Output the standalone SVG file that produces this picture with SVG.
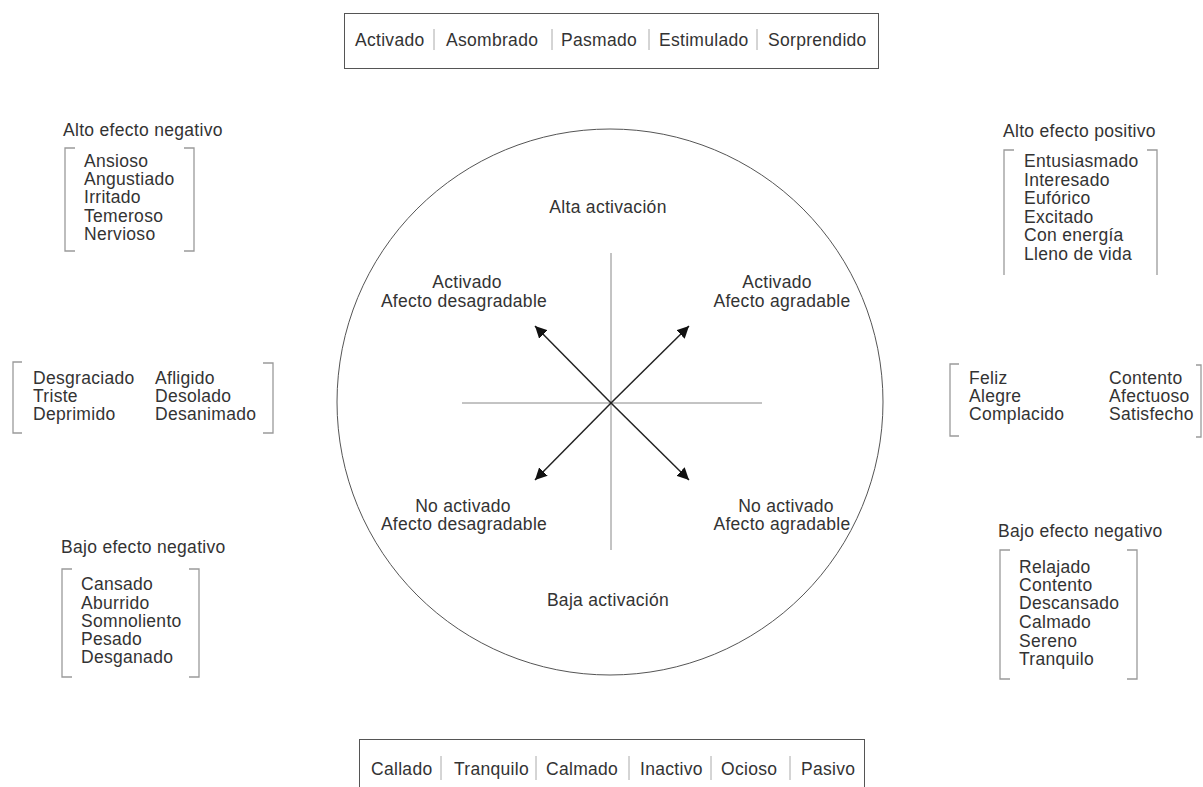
<svg xmlns="http://www.w3.org/2000/svg" width="1203" height="787" viewBox="0 0 1203 787">
<style>
text{font-family:"Liberation Sans",Arial,sans-serif;font-size:17.5px;letter-spacing:0.3px;fill:#333}
.c{text-anchor:middle}
.br{fill:none;stroke:#9a9a9a;stroke-width:1.3}
.sep{stroke:#aaa;stroke-width:1}
.box{fill:none;stroke:#555;stroke-width:1}
.axis{stroke:#888;stroke-width:1}
.arr{stroke:#222;stroke-width:1.5;marker-end:url(#ah)}
</style>
<defs>
<marker id="ah" viewBox="0 0 10 10" refX="10" refY="5" markerWidth="12" markerHeight="12" markerUnits="userSpaceOnUse" orient="auto">
<path d="M0,0 L10,5 L0,10 z" fill="#111"/>
</marker>
</defs>
<g id="circle">
<circle cx="610" cy="402" r="273" fill="none" stroke="#555" stroke-width="1"/>
<text class="c" x="608" y="213">Alta activación</text>
<text class="c" x="608" y="606">Baja activación</text>
</g>
<g id="axes">
<line class="axis" x1="462" y1="403" x2="762" y2="403"/>
<line class="axis" x1="611" y1="253" x2="611" y2="550"/>
</g>
<g id="connectors">
<line class="arr" x1="611" y1="403" x2="535" y2="326"/>
<line class="arr" x1="611" y1="403" x2="689" y2="326"/>
<line class="arr" x1="611" y1="403" x2="535" y2="480"/>
<line class="arr" x1="611" y1="403" x2="689" y2="480"/>
</g>
<g id="q-tl">
<text class="c" x="467" y="288">Activado</text>
<text class="c" x="464" y="307">Afecto desagradable</text>
</g>
<g id="q-tr">
<text class="c" x="777" y="288">Activado</text>
<text class="c" x="782" y="307">Afecto agradable</text>
</g>
<g id="q-bl">
<text class="c" x="463" y="512">No activado</text>
<text class="c" x="464" y="530">Afecto desagradable</text>
</g>
<g id="q-br">
<text class="c" x="786" y="512">No activado</text>
<text class="c" x="782" y="530">Afecto agradable</text>
</g>
<g id="top-box">
<rect class="box" x="344.5" y="13.5" width="534" height="55"/>
<text x="355" y="46">Activado</text>
<line class="sep" x1="434" y1="29" x2="434" y2="50"/>
<text x="446" y="46">Asombrado</text>
<line class="sep" x1="552" y1="29" x2="552" y2="50"/>
<text x="561" y="46">Pasmado</text>
<line class="sep" x1="649" y1="29" x2="649" y2="50"/>
<text x="659" y="46">Estimulado</text>
<line class="sep" x1="757" y1="29" x2="757" y2="50"/>
<text x="768" y="46">Sorprendido</text>
</g>
<g id="bottom-box">
<rect class="box" x="359.5" y="739.5" width="505" height="60"/>
<text x="371" y="775">Callado</text>
<line class="sep" x1="441" y1="756" x2="441" y2="780"/>
<text x="454" y="775">Tranquilo</text>
<line class="sep" x1="536" y1="756" x2="536" y2="780"/>
<text x="546" y="775">Calmado</text>
<line class="sep" x1="629" y1="756" x2="629" y2="780"/>
<text x="640" y="775">Inactivo</text>
<line class="sep" x1="711" y1="756" x2="711" y2="780"/>
<text x="721" y="775">Ocioso</text>
<line class="sep" x1="790" y1="756" x2="790" y2="780"/>
<text x="801" y="775">Pasivo</text>
</g>
<g id="alto-negativo">
<text x="63" y="136">Alto efecto negativo</text>
<path class="br" d="M75,148 H65 V251 H75"/>
<path class="br" d="M184,148 H194 V251 H184"/>
<text x="84" y="167">Ansioso</text>
<text x="84" y="185">Angustiado</text>
<text x="84" y="203">Irritado</text>
<text x="84" y="222">Temeroso</text>
<text x="84" y="240">Nervioso</text>
</g>
<g id="alto-positivo">
<text x="1003" y="137">Alto efecto positivo</text>
<path class="br" d="M1014,150 H1004 V275"/>
<path class="br" d="M1147,150 H1157 V275"/>
<text x="1024" y="167">Entusiasmado</text>
<text x="1024" y="186">Interesado</text>
<text x="1024" y="204">Eufórico</text>
<text x="1024" y="223">Excitado</text>
<text x="1024" y="241">Con energía</text>
<text x="1024" y="260">Lleno de vida</text>
</g>
<g id="negativo-medio">
<path class="br" d="M22,362 H13 V433 H22"/>
<path class="br" d="M263,363 H273 V433 H263"/>
<text x="33" y="384">Desgraciado</text>
<text x="33" y="402">Triste</text>
<text x="33" y="420">Deprimido</text>
<text x="155" y="384">Afligido</text>
<text x="155" y="402">Desolado</text>
<text x="155" y="420">Desanimado</text>
</g>
<g id="positivo-medio">
<path class="br" d="M959,364 H950 V436 H959"/>
<path class="br" d="M1196,365 H1201 V437 H1196"/>
<text x="969" y="384">Feliz</text>
<text x="969" y="402">Alegre</text>
<text x="969" y="420">Complacido</text>
<text x="1109" y="384">Contento</text>
<text x="1109" y="402">Afectuoso</text>
<text x="1109" y="420">Satisfecho</text>
</g>
<g id="bajo-negativo-izq">
<text x="61" y="553">Bajo efecto negativo</text>
<path class="br" d="M72,569 H62 V677 H72"/>
<path class="br" d="M189,569 H199 V677 H189"/>
<text x="81" y="590">Cansado</text>
<text x="81" y="609">Aburrido</text>
<text x="81" y="627">Somnoliento</text>
<text x="81" y="645">Pesado</text>
<text x="81" y="663">Desganado</text>
</g>
<g id="bajo-negativo-der">
<text x="998" y="537">Bajo efecto negativo</text>
<path class="br" d="M1010,550 H1000 V679 H1010"/>
<path class="br" d="M1127,550 H1137 V679 H1127"/>
<text x="1019" y="573">Relajado</text>
<text x="1019" y="591">Contento</text>
<text x="1019" y="609">Descansado</text>
<text x="1019" y="628">Calmado</text>
<text x="1019" y="647">Sereno</text>
<text x="1019" y="665">Tranquilo</text>
</g>
</svg>
